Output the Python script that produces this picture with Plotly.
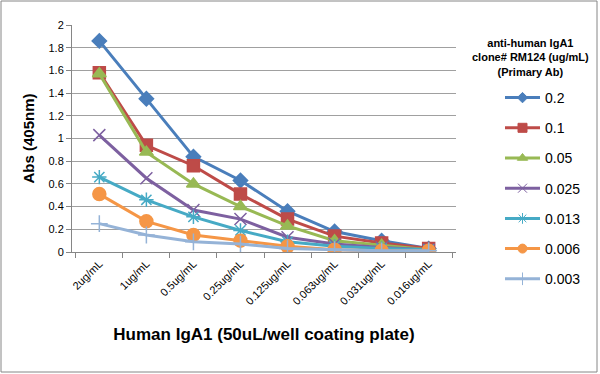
import plotly.graph_objects as go

categories = ["2ug/mL", "1ug/mL", "0.5ug/mL", "0.25ug/mL", "0.125ug/mL", "0.063ug/mL", "0.031ug/mL", "0.016ug/mL"]
series_names = ["0.2", "0.1", "0.05", "0.025", "0.013", "0.006", "0.003"]
s_02 = [1.86, 1.35, 0.84, 0.63, 0.36, 0.18, 0.10, 0.03]
s_01 = [1.58, 0.94, 0.76, 0.51, 0.29, 0.14, 0.08, 0.03]
s_005 = [1.57, 0.88, 0.60, 0.40, 0.23, 0.10, 0.06, 0.02]
s_0025 = [1.03, 0.65, 0.37, 0.29, 0.13, 0.07, 0.04, 0.02]
s_0013 = [0.66, 0.46, 0.31, 0.19, 0.09, 0.05, 0.03, 0.02]
s_0006 = [0.51, 0.27, 0.15, 0.10, 0.05, 0.02, 0.01, 0.01]
s_0003 = [0.25, 0.15, 0.09, 0.07, 0.03, 0.02, 0.01, 0.01]
series_values = [s_02, s_01, s_005, s_0025, s_0013, s_0006, s_0003]
y_ticks = [0, 0.2, 0.4, 0.6, 0.8, 1, 1.2, 1.4, 1.6, 1.8, 2]
y_tick_labels = ["0", "0.2", "0.4", "0.6", "0.8", "1", "1.2", "1.4", "1.6", "1.8", "2"]
legend_title = "anti-human IgA1<br>clone# RM124 (ug/mL)<br>(Primary Ab)"
x_title = "Human IgA1 (50uL/well coating plate)"
y_title = "Abs (405nm)"

colors = ["#4A7EBB", "#BE4B48", "#98B954", "#7D60A0", "#46AAC5", "#F59646", "#95B3D7"]
symbols = ["diamond", "square", "triangle-up", "x-thin-open", "asterisk-open", "circle", "cross-thin-open"]
msizes = [11, 12, 12, 12, 12, 13, 12]
lsizes = [8, 9, 9, 9, 9, 9, 9]

FONT = "Liberation Sans"
fig = go.Figure()
for i, (name, vals) in enumerate(zip(series_names, series_values)):
    fig.add_trace(go.Scatter(
        x=categories, y=vals, name=name, mode="lines+markers",
        showlegend=False,
        line=dict(color=colors[i], width=3),
        marker=dict(symbol=symbols[i], size=msizes[i], color=colors[i],
                    line=dict(color=colors[i], width=1.5)),
    ))
# legend entries (smaller symbols, as in the reference legend)
for i, name in enumerate(series_names):
    fig.add_trace(go.Scatter(
        x=[None], y=[None], name=name, mode="lines+markers",
        legendgroup=name, showlegend=True,
        line=dict(color=colors[i], width=3),
        marker=dict(symbol=symbols[i], size=lsizes[i], color=colors[i],
                    line=dict(color=colors[i], width=1)),
    ))

fig.update_layout(
    width=600, height=374,
    margin=dict(l=72, r=144, t=25, b=122),
    paper_bgcolor="white", plot_bgcolor="white",
    font=dict(family=FONT, color="#000000"),
    showlegend=True,
    legend=dict(
        x=(500 - 72) / 384, xanchor="left", y=1 - (82 - 25) / 227, yanchor="top",
        font=dict(size=14, family=FONT),
        tracegroupgap=9, maxheight=400,
        itemwidth=35, bgcolor="rgba(0,0,0,0)",
    ),
    xaxis=dict(
        type="category", tickangle=-45, tickfont=dict(size=11, family=FONT),
        showline=True, linecolor="#868686", linewidth=1, automargin=False,
        ticks="outside", tickson="boundaries", ticklen=5, tickcolor="#868686",
        showgrid=False,
        title=dict(text="<b>" + x_title + "</b>", font=dict(size=17, family=FONT), standoff=22),
    ),
    yaxis=dict(
        range=[0, 2], tickvals=y_ticks, ticktext=y_tick_labels,
        tickfont=dict(size=11, family=FONT), automargin=False,
        showline=True, linecolor="#868686", linewidth=1,
        ticks="outside", ticklen=5, tickcolor="#868686",
        showgrid=True, gridcolor="#A0A0A0", gridwidth=1, zeroline=False,
        title=dict(text="<b>" + y_title + "</b>", font=dict(size=15, family=FONT), standoff=10),
    ),
    annotations=[dict(text="<b>" + legend_title + "</b>", xref="paper", yref="paper",
                      x=(530 - 72) / 384, y=1 - (35 - 25) / 227, xanchor="center", yanchor="top",
                      showarrow=False, align="center", font=dict(size=11, family=FONT))],
    shapes=[dict(type="rect", xref="paper", yref="paper", x0=-71/384, x1=1+141/384,
                 y0=-120/227, y1=1+24/227, line=dict(color="#868686", width=1))],
)

fig.write_html("out.html", config={"displayModeBar": False},
               post_script="document.body.style.margin='0';")
